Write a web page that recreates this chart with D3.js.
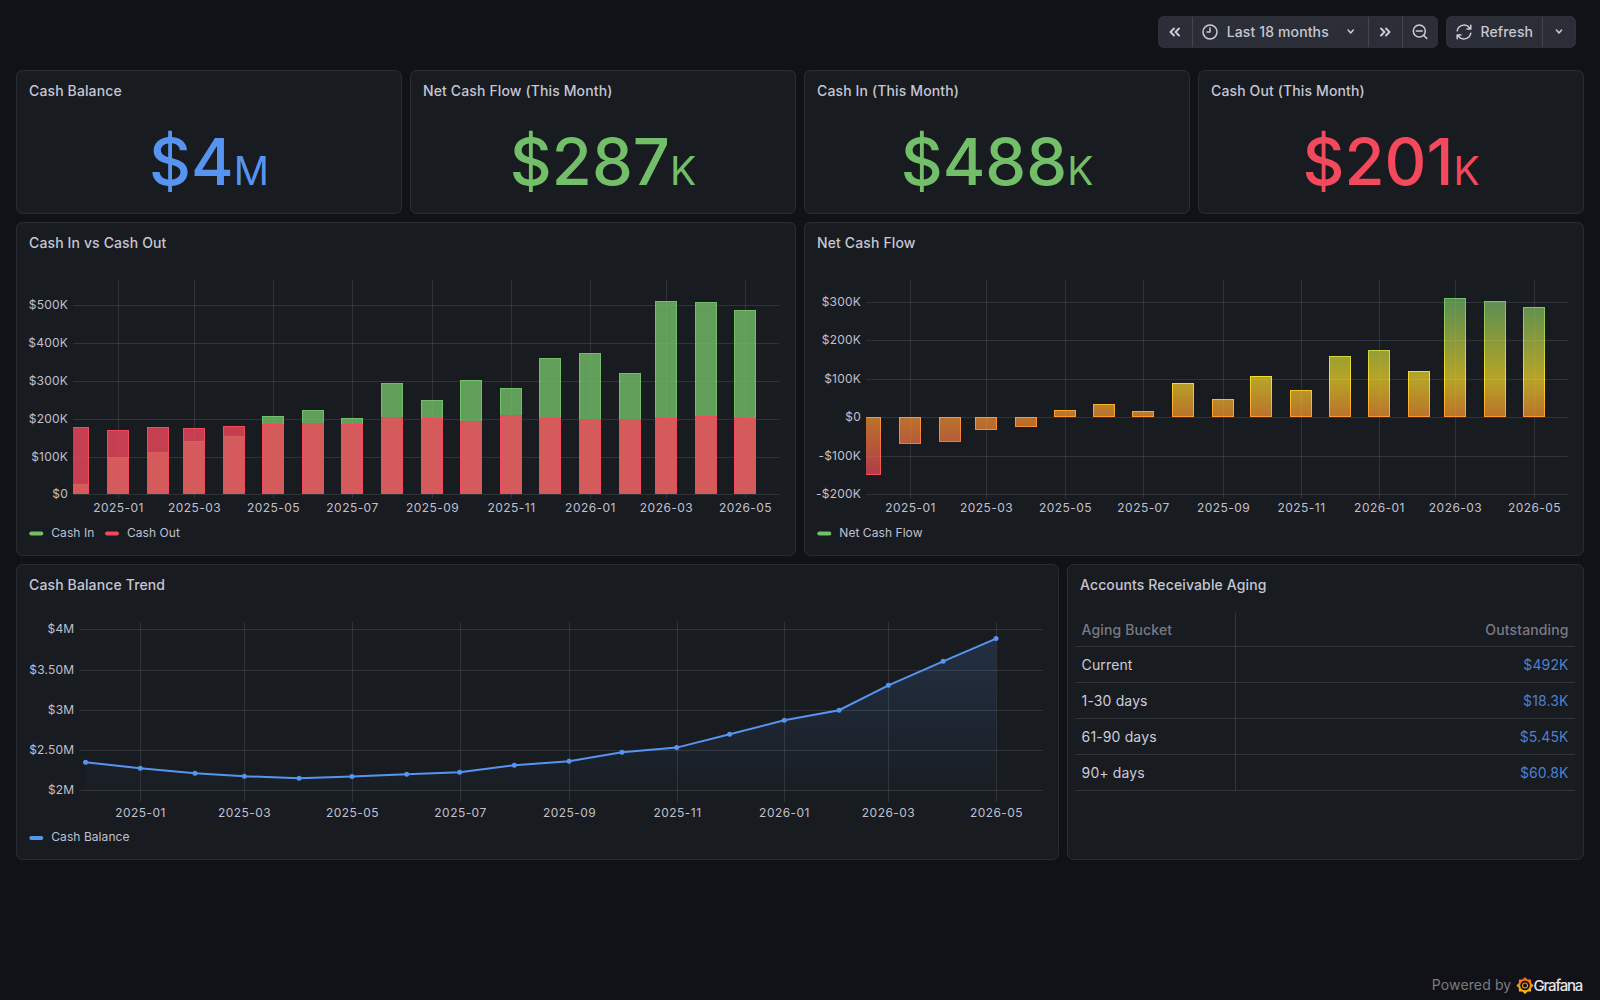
<!DOCTYPE html>
<html>
<head>
<meta charset="utf-8">
<title>Cash Flow Dashboard</title>
<script src="https://cdn.jsdelivr.net/npm/d3@7/dist/d3.min.js"></script>
<style>
  html, body { margin: 0; padding: 0; background: #111217; overflow: hidden; }
  svg { display: block; font-family: Inter, "Noto Sans", sans-serif; letter-spacing: 0.13px; }
  .domain { display: none; }
</style>
</head>
<body>
<svg id="board" width="1600" height="1000"></svg>
<script>
// ---- Monthly series ----
const months = ["2024-12","2025-01","2025-02","2025-03","2025-04","2025-05","2025-06","2025-07","2025-08","2025-09","2025-10","2025-11","2025-12","2026-01","2026-02","2026-03","2026-04","2026-05"];
const cashIn = [27,99,112,141,154,206,222,201,294,249,302,280,360,373,320,511,508,488];
const cashOut = [177,169,177,175,180,186,188,186,204,202,194,209,202,198,198,202,207,201];
const netCashFlow = [-150,-70,-65,-34,-26,20,35,15,90,47,107,71,158,175,121,309,301,287];
const cashBalance = [2.348,2.273,2.211,2.174,2.149,2.170,2.199,2.224,2.311,2.360,2.472,2.530,2.696,2.870,2.994,3.304,3.602,3.884];

// ---- Axis ticks ----
const monthTicks = ["2025-01","2025-03","2025-05","2025-07","2025-09","2025-11","2026-01","2026-03","2026-05"];
const cashTicks = [0,100,200,300,400,500];
const netTicks = [-200,-100,0,100,200,300];
const balanceTicks = [2,2.5,3,3.5,4];
const timeRange = ["2024-11-27T12:00:00Z","2026-05-27T12:00:00Z"];

// ---- Stat tiles ----
const statTitles = ["Cash Balance","Net Cash Flow (This Month)","Cash In (This Month)","Cash Out (This Month)"];
const statValues = ["$4","$287","$488","$201"];
const statUnits = ["M","K","K","K"];

// ---- Receivables table ----
const agingBuckets = ["Current","1-30 days","61-90 days","90+ days"];
const agingOutstanding = ["$492K","$18.3K","$5.45K","$60.8K"];

const C = {
  bg: "#111217", panel: "#181b1f", border: "rgba(204,204,220,0.12)",
  grid: "rgba(240,250,255,0.11)", text: "#ccccdc", title: "#c6c6d4", axis: "#c0c0cf",
  green: "#73BF69", red: "#F2495C", blue: "#5794F2", yellow: "#FADE2A", orange: "#FF9830"
};
const statColors = [C.blue, C.green, C.green, C.red];

const parseMonth = d3.utcParse("%Y-%m");
const monthDates = months.map(parseMonth);
const tickDates = monthTicks.map(parseMonth);
const timeDomain = timeRange.map(d3.isoParse);
const fmtMonth = d3.utcFormat("%Y-%m");
const svg = d3.select("#board");
const defs = svg.append("defs");

function panel(x0, y0, x1, y1, title) {
  svg.append("rect").attr("x", x0 + 0.5).attr("y", y0 + 0.5)
    .attr("width", x1 - x0 - 1).attr("height", y1 - y0 - 1).attr("rx", 6)
    .attr("fill", C.panel).attr("stroke", C.border);
  svg.append("text").attr("x", x0 + 13).attr("y", y0 + 25.5)
    .attr("font-size", 14).attr("font-weight", 500).attr("fill", C.title).text(title);
}

function legend(items, y) {
  items.forEach(it => {
    svg.append("rect").attr("x", it.x).attr("y", y - 2).attr("width", 14).attr("height", 4).attr("rx", 2).attr("fill", it.color);
    svg.append("text").attr("x", it.x + 22).attr("y", y + 3).attr("font-size", 12).attr("letter-spacing", "0.06px")
      .attr("fill", C.axis).text(it.label);
  });
}

// Frame shared by the time series panels: grid, tick labels, and a clipped mark layer.
function timeFrame(o) {
  const x = d3.scaleUtc().domain(timeDomain).range([o.left, o.right]);
  const y = d3.scaleLinear().domain(o.yDomain).range([o.bottom, o.top]);
  const h = o.bottom - o.top, w = o.right - o.left;

  const gx = svg.append("g").attr("transform", `translate(0,${o.bottom})`)
    .call(d3.axisBottom(x).tickValues(tickDates).tickSizeOuter(0).tickSizeInner(4).tickPadding(o.xPad || 5).tickFormat(fmtMonth));
  gx.selectAll(".tick").attr("transform", d => `translate(${Math.round(x(d)) + 0.5},0)`);
  gx.selectAll(".tick line").attr("y1", -h).attr("y2", 4).attr("stroke", C.grid);
  gx.selectAll("text").attr("font-size", 12).attr("font-family", "Inter").attr("letter-spacing", "0.45px").attr("fill", C.axis);

  const gy = svg.append("g").attr("transform", `translate(${o.left},0)`)
    .call(d3.axisLeft(y).tickValues(o.yTicks).tickSizeOuter(0).tickSizeInner(0).tickPadding(5).tickFormat(o.yFormat));
  gy.selectAll(".tick").attr("transform", d => `translate(0,${Math.round(y(d)) + 0.5})`);
  gy.selectAll(".tick line").attr("x2", w).attr("stroke", C.grid);
  gy.selectAll("text").attr("font-size", 12).attr("font-family", "Inter").attr("dy", "0.28em")
    .attr("letter-spacing", "0.2px").attr("fill", C.axis);

  const clipId = "clip" + Math.round(o.left);
  defs.append("clipPath").attr("id", clipId).append("rect")
    .attr("x", o.left).attr("y", o.top).attr("width", w).attr("height", h + 1);
  return { x, y, layer: svg.append("g").attr("clip-path", `url(#${clipId})`) };
}

function bars(layer, x, y, values, width, fill, stroke, fillOpacity) {
  const y0 = Math.round(y(0));
  layer.append("g").selectAll("rect").data(values).join("rect")
    .attr("x", (d, i) => Math.round(x(monthDates[i]) - width / 2) + 0.5)
    .attr("y", d => Math.min(Math.round(y(d)), y0) + 0.5)
    .attr("width", width - 1)
    .attr("height", d => Math.max(Math.abs(Math.round(y(d)) - y0) - 1, 0))
    .attr("fill", fill).attr("fill-opacity", fillOpacity)
    .attr("stroke", stroke);
}

// ---- Top toolbar ----
function button(x0, x1, seps) {
  svg.append("rect").attr("x", x0 + 0.5).attr("y", 16.5).attr("width", x1 - x0 - 1).attr("height", 31).attr("rx", 5)
    .attr("fill", "#2b2e36").attr("stroke", "rgba(204,204,220,0.10)");
  seps.forEach(s => svg.append("line").attr("x1", s + 0.5).attr("x2", s + 0.5).attr("y1", 17).attr("y2", 47)
    .attr("stroke", "rgba(204,204,220,0.16)"));
}
function icon(d, tx, ty, sw) {
  svg.append("path").attr("d", d).attr("transform", `translate(${tx},${ty})`)
    .attr("fill", "none").attr("stroke", C.text).attr("stroke-width", sw || 1.5)
    .attr("stroke-linecap", "round").attr("stroke-linejoin", "round");
}
button(1158, 1438, [1192, 1368, 1402]);
button(1446, 1576, [1542]);
icon("M-1,-3.5L-4.5,0L-1,3.5M4,-3.5L0.5,0L4,3.5", 1175, 32, 1.9);
icon("M1,-3.5L4.5,0L1,3.5M-4,-3.5L-0.5,0L-4,3.5", 1385, 32, 1.9);
icon("M7,0A7,7 0 1 1 -7,0A7,7 0 1 1 7,0M0,-4V0H-3", 1210, 32);
icon("M-2.6,-2.5L0,0.5L2.6,-2.5", 1350.7, 32.5);
icon("M-2.6,-2.5L0,0.5L2.6,-2.5", 1559, 32.5);
icon("M6,-1A6,6 0 1 1 -6,-1A6,6 0 1 1 6,-1M-3,-1H3M4.4,3.4L7.5,6.5", 1419.3, 32);
icon("M-6.8,-1.2A7,7 0 0 1 5.4,-4.4L6.8,-3M6.8,-6.8V-3H3M6.8,1.2A7,7 0 0 1 -5.4,4.4L-6.8,3M-6.8,6.8V3H-3", 1464, 32);
[["Last 18 months", 1226.7], ["Refresh", 1480.5]].forEach(([t, tx]) =>
  svg.append("text").attr("x", tx).attr("y", 37).attr("font-size", 14).attr("font-weight", 500).attr("fill", C.title).text(t));

// ---- Stat tiles ----
const statEdges = [[16, 402], [410, 796], [804, 1190], [1198, 1584]];
statTitles.forEach((title, i) => {
  const [a, b] = statEdges[i];
  panel(a, 70, b, 214, title);
  const t = svg.append("text").attr("x", (a + b) / 2).attr("y", 185).attr("text-anchor", "middle")
    .attr("fill", statColors[i]).attr("letter-spacing", "0px");
  t.append("tspan").attr("font-size", 65).attr("font-weight", 500).text(statValues[i]);
  t.append("tspan").attr("font-size", 39).attr("font-weight", 400).text(statUnits[i]);
});

// ---- Cash In vs Cash Out ----
panel(16, 222, 796, 556, "Cash In vs Cash Out");
const cashFrame = timeFrame({
  left: 73, right: 779.3, top: 279.3, bottom: 494.3, yDomain: [0, 568.8], yTicks: cashTicks,
  yFormat: d => `$${d === 0 ? 0 : d + "K"}`
});
bars(cashFrame.layer, cashFrame.x, cashFrame.y, cashIn, 22, C.green, C.green, 0.8);
bars(cashFrame.layer, cashFrame.x, cashFrame.y, cashOut, 22, C.red, C.red, 0.8);
legend([{ x: 29.3, color: C.green, label: "Cash In" }, { x: 105, color: C.red, label: "Cash Out" }], 533.5);

// ---- Net Cash Flow ----
panel(804, 222, 1584, 556, "Net Cash Flow");
const netFrame = timeFrame({
  left: 866, right: 1567.7, top: 279.3, bottom: 494.7, yDomain: [-201, 358], yTicks: netTicks,
  yFormat: d => d === 0 ? "$0" : (d < 0 ? `-$${-d}K` : `$${d}K`)
});
// Colour follows the value: red at the deepest loss through orange and yellow to green at the peak.
const netGradStops = [[-150, C.red], [0, C.orange], [100, C.yellow], [309, C.green]];
const netGrad = defs.append("linearGradient").attr("id", "netGrad").attr("gradientUnits", "userSpaceOnUse")
  .attr("x1", 0).attr("x2", 0).attr("y1", netFrame.y(-150)).attr("y2", netFrame.y(309));
netGradStops.forEach(([v, col]) => netGrad.append("stop").attr("offset", (v + 150) / 459).attr("stop-color", col));
bars(netFrame.layer, netFrame.x, netFrame.y, netCashFlow, 22, "url(#netGrad)", "url(#netGrad)", 0.7);
legend([{ x: 817.3, color: C.green, label: "Net Cash Flow" }], 533.5);

// ---- Cash Balance Trend ----
panel(16, 564, 1059, 860, "Cash Balance Trend");
const balFrame = timeFrame({
  left: 79.4, right: 1042.8, top: 621.7, bottom: 798, yDomain: [1.904, 4.094], yTicks: balanceTicks, xPad: 6,
  yFormat: d => `$${Number.isInteger(d) ? d : d.toFixed(2)}M`
});
const balGrad = defs.append("linearGradient").attr("id", "balGrad").attr("gradientUnits", "userSpaceOnUse")
  .attr("x1", 0).attr("x2", 0).attr("y1", balFrame.y(3.884)).attr("y2", 798);
balGrad.append("stop").attr("offset", 0).attr("stop-color", C.blue).attr("stop-opacity", 0.17);
balGrad.append("stop").attr("offset", 1).attr("stop-color", C.blue).attr("stop-opacity", 0.01);
balFrame.layer.append("path").datum(cashBalance).attr("fill", "url(#balGrad)")
  .attr("d", d3.area().x((d, i) => balFrame.x(monthDates[i])).y0(798).y1(d => balFrame.y(d)));
balFrame.layer.append("path").datum(cashBalance).attr("fill", "none").attr("stroke", C.blue).attr("stroke-width", 2)
  .attr("d", d3.line().x((d, i) => balFrame.x(monthDates[i])).y(d => balFrame.y(d)));
balFrame.layer.append("g").selectAll("circle").data(cashBalance).join("circle")
  .attr("cx", (d, i) => balFrame.x(monthDates[i])).attr("cy", d => balFrame.y(d)).attr("r", 2.5).attr("fill", C.blue);
legend([{ x: 29.3, color: C.blue, label: "Cash Balance" }], 838);

// ---- Accounts Receivable Aging ----
panel(1067, 564, 1584, 860, "Accounts Receivable Aging");
const rowY = d3.scaleLinear().domain([0, 1]).range([646.5, 682.5]);
const tableLine = { stroke: "rgba(204,204,220,0.14)" };
svg.append("text").attr("x", 1081.6).attr("y", 635).attr("font-size", 14).attr("font-weight", 500)
  .attr("fill", "rgba(204,204,220,0.55)").text("Aging Bucket");
svg.append("text").attr("x", 1568.6).attr("y", 635).attr("text-anchor", "end").attr("font-size", 14).attr("font-weight", 500)
  .attr("fill", "rgba(204,204,220,0.55)").text("Outstanding");
svg.append("line").attr("x1", 1075.5).attr("x2", 1575).attr("y1", rowY(0)).attr("y2", rowY(0)).attr("stroke", tableLine.stroke);
svg.append("line").attr("x1", 1235.5).attr("x2", 1235.5).attr("y1", 612.5).attr("y2", rowY(agingBuckets.length)).attr("stroke", tableLine.stroke);
agingBuckets.forEach((b, i) => {
  svg.append("line").attr("x1", 1075.5).attr("x2", 1575).attr("y1", rowY(i + 1)).attr("y2", rowY(i + 1)).attr("stroke", tableLine.stroke);
  svg.append("text").attr("x", 1081.6).attr("y", rowY(i + 0.5) + 5).attr("font-size", 14).attr("fill", C.text).text(b);
  svg.append("text").attr("x", 1568.6).attr("y", rowY(i + 0.5) + 5).attr("text-anchor", "end").attr("font-size", 14)
    .attr("fill", C.blue).attr("fill-opacity", 0.85).text(agingOutstanding[i]);
});

// ---- Footer mark ----
svg.append("text").attr("x", 1431.8).attr("y", 990).attr("font-size", 14).attr("fill", "#7a7c83").text("Powered by");
const logoGrad = defs.append("linearGradient").attr("id", "logoGrad").attr("x1", 0.5).attr("x2", 0.5).attr("y1", 1).attr("y2", 0);
logoGrad.append("stop").attr("offset", 0).attr("stop-color", "#FFCB05");
logoGrad.append("stop").attr("offset", 1).attr("stop-color", "#F05A28");
const logo = svg.append("g").attr("transform", "translate(1525,985.5)");
logo.append("path").attr("fill", "url(#logoGrad)")
  .attr("d", d3.range(16).map(i => {
    const r = i % 2 ? 6.6 : 8.6, a = i * Math.PI / 8;
    return `${i ? "L" : "M"}${(r * Math.sin(a)).toFixed(2)},${(-r * Math.cos(a)).toFixed(2)}`;
  }).join("") + "Z");
logo.append("circle").attr("r", 3.9).attr("fill", "none").attr("stroke", C.bg).attr("stroke-width", 1.8);
logo.append("circle").attr("r", 1.9).attr("fill", C.bg);
svg.append("text").attr("x", 1533.5).attr("y", 990.5).attr("font-size", 15).attr("font-weight", 500).attr("fill", "#e4e4e8")
  .attr("textLength", 50).text("Grafana");
</script>
</body>
</html>
